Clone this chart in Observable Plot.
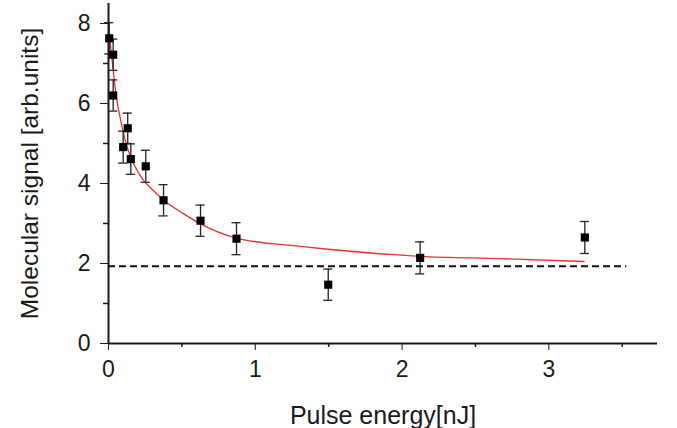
<!DOCTYPE html>
<html>
<head>
<meta charset="utf-8">
<script src="https://cdn.jsdelivr.net/npm/d3@7"></script>
<script src="https://cdn.jsdelivr.net/npm/@observablehq/plot@0.6"></script>
<style>
  html, body { margin: 0; padding: 0; background: #fff; }
</style>
</head>
<body>
<div id="chart"></div>
<script>
// Measured data points
const energy = [0.005, 0.032, 0.032, 0.131, 0.10, 0.152, 0.254, 0.375, 0.627, 0.872, 1.497, 2.123, 3.245];
const signal = [7.63, 7.22, 6.20, 5.38, 4.91, 4.61, 4.43, 3.58, 3.07, 2.62, 1.47, 2.14, 2.65];
const errors = [0.39, 0.39, 0.39, 0.38, 0.40, 0.38, 0.40, 0.39, 0.39, 0.40, 0.39, 0.40, 0.40];

// Fit curve
const fitEnergy = [0.009, 0.032, 0.054, 0.093, 0.127, 0.172, 0.24, 0.29, 0.377, 0.513, 0.627, 0.877, 1.308, 1.512, 2.125, 2.67, 3.24];
const fitSignal = [7.62, 6.83, 6.16, 5.41, 4.91, 4.49, 4.07, 3.88, 3.58, 3.24, 2.99, 2.63, 2.43, 2.35, 2.18, 2.12, 2.05];

// Dashed baseline level and its extent
const baselineLevel = 1.93;
const baselineExtent = [0, 3.53];

// Ticks
const xMajorTicks = [0, 1, 2, 3];
const xMinorTicks = [0.5, 1.5, 2.5, 3.5];
const yMajorTicks = [0, 2, 4, 6, 8];
const yMinorTicks = [1, 3, 5, 7];

const xLabel = "Pulse energy[nJ]";
const yLabel = "Molecular signal [arb.units]";

const points = energy.map((x, i) => ({x, y: signal[i], e: errors[i]}));
const fit = fitEnergy.map((x, i) => ({x, y: fitSignal[i]}));
const capHalf = 0.031;

const chart = Plot.plot({
  width: 677,
  height: 428,
  marginLeft: 108,
  marginRight: 20,
  marginTop: 3,
  marginBottom: 85,
  style: {
    fontFamily: "'Liberation Sans', Arial, sans-serif",
    fontSize: "23px",
    color: "#1a1a1a",
    background: "#fff",
    overflow: "visible"
  },
  x: {
    domain: [0, 3.74],
    ticks: xMajorTicks,
    tickSize: 7,
    tickPadding: 10,
    tickFormat: d => String(d),
    label: null
  },
  y: {
    domain: [0, 8.5],
    ticks: yMajorTicks,
    tickSize: 8,
    tickPadding: 10,
    tickFormat: d => String(d),
    label: null
  },
  marks: [
    // axis lines
    Plot.ruleY([0], {stroke: "#1a1a1a", strokeWidth: 2}),
    Plot.ruleX([0], {stroke: "#1a1a1a", strokeWidth: 2}),
    // minor ticks
    Plot.ruleX(xMinorTicks, {x: d => d, y1: 0, y2: 0, insetBottom: -4, stroke: "#1a1a1a", strokeWidth: 1.5}),
    Plot.ruleY(yMinorTicks, {y: d => d, x1: 0, x2: 0, insetLeft: -5, stroke: "#1a1a1a", strokeWidth: 1.5}),
    // dashed baseline
    Plot.ruleY([baselineLevel], {x1: baselineExtent[0], x2: baselineExtent[1], stroke: "#111", strokeWidth: 2, strokeDasharray: "7,4"}),
    // fit curve
    Plot.line(fit, {x: "x", y: "y", stroke: "#e8302f", strokeWidth: 1.3, curve: "monotone-x"}),
    // error bars
    Plot.ruleX(points, {x: "x", y1: d => d.y - d.e, y2: d => d.y + d.e, stroke: "#222", strokeWidth: 1.3}),
    Plot.ruleY(points, {y: d => d.y + d.e, x1: d => d.x - capHalf, x2: d => d.x + capHalf, stroke: "#222", strokeWidth: 1.3}),
    Plot.ruleY(points, {y: d => d.y - d.e, x1: d => d.x - capHalf, x2: d => d.x + capHalf, stroke: "#222", strokeWidth: 1.3}),
    // markers
    Plot.dot(points, {x: "x", y: "y", symbol: "square", r: 4.6, fill: "#000", stroke: "none"}),
    // axis titles
    Plot.text([xLabel], {frameAnchor: "bottom", dy: 80, lineAnchor: "bottom", textAnchor: "middle", fontSize: 25, fill: "#1a1a1a", text: d => d}),
    Plot.text([yLabel], {frameAnchor: "left", dx: -78, rotate: -90, lineAnchor: "middle", textAnchor: "middle", fontSize: 24.5, fill: "#1a1a1a", text: d => d})
  ]
});
document.getElementById("chart").appendChild(chart);
</script>
</body>
</html>
